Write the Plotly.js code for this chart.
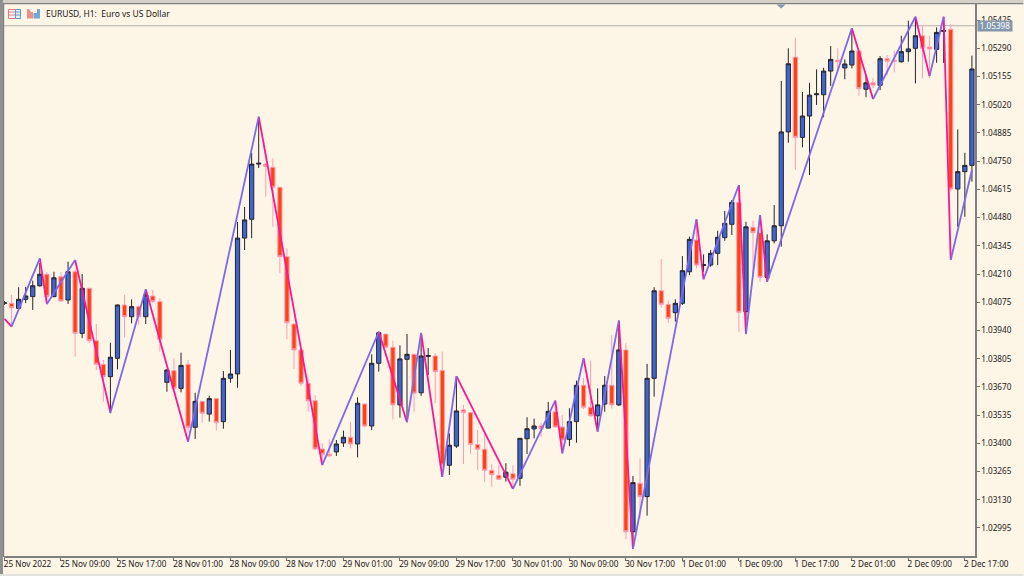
<!DOCTYPE html>
<html>
<head>
<meta charset="utf-8">
<script src="https://cdn.plot.ly/plotly-3.0.1.min.js"></script>
<style>html,body{margin:0;padding:0;background:#fdf5e6}#c{width:1024px;height:576px}</style>
</head>
<body>
<div id="c"></div>
<script>
// Prices are written in points (1 point = 0.00001)
const open_pts = [104070,104070,104046,104089,104102,104154,104209,104102,104197,104086,104221,103926,104142,103891,103778,103719,103807,104062,104006,104054,104006,104105,104078,103692,103748,103663,103778,103477,103601,103540,103614,103504,103711,103732,104382,104472,104736,104736,104721,104625,104293,103971,103847,103687,103604,103373,103348,103359,103402,103429,103397,103588,103483,103783,103923,103860,103584,103802,103826,103642,103816,103818,103748,103295,103387,103560,103547,103394,103372,103271,103247,103238,103255,103233,103422,103469,103483,103473,103551,103478,103419,103504,103678,103573,103532,103588,103678,103584,103847,102977,103209,103145,103711,104130,104065,104025,104070,104221,104373,104251,104253,104309,104384,104448,104553,104030,104434,104408,104194,104369,104441,104890,105248,104864,104966,105068,105068,105181,105233,105196,105210,105277,105094,105125,105113,105240,105233,105226,105274,105290,105350,105296,105285,105371,105381,104617,104700,104730];
const high_pts = [104081,104110,104147,104149,104178,104263,104220,104221,104218,104269,104229,104210,104142,103971,103799,103881,104064,104110,104089,104062,104134,104134,104094,103754,103807,103834,103799,103642,103601,103628,103614,103746,103847,104459,104531,104789,104957,104740,104764,104625,104333,103971,103847,103719,103631,103400,103419,103416,103461,103502,103620,103592,103826,103934,103923,103891,103869,103923,103826,103928,103856,103831,103839,103448,103719,103584,103547,103464,103450,103301,103296,103305,103295,103424,103525,103518,103497,103598,103607,103536,103568,103700,103713,103795,103663,103722,103918,103987,103879,103244,103328,103780,104147,104282,104082,104089,104296,104389,104469,104304,104325,104417,104512,104564,104636,104460,104465,104492,104400,104540,105134,105290,105341,105081,105125,105189,105197,105301,105290,105237,105386,105277,105162,105148,105253,105258,105278,105350,105422,105441,105401,105350,105390,105440,105406,104902,104790,105255];
const low_pts = [104062,103966,104044,104071,104038,104149,104062,104099,104078,104067,103815,103903,103879,103751,103599,103544,103754,103907,103974,103966,103971,104070,103839,103647,103655,103644,103450,103421,103499,103504,103461,103470,103690,103666,104325,104382,104717,104580,104436,104215,103898,103756,103674,103551,103368,103312,103336,103340,103383,103376,103333,103477,103464,103743,103855,103515,103523,103512,103551,103627,103727,103592,103240,103249,103378,103301,103349,103273,103214,103193,103225,103217,103193,103197,103349,103424,103432,103472,103477,103354,103387,103403,103564,103527,103464,103551,103566,103579,102941,102904,103041,103054,103623,104049,103977,103982,104062,104205,104237,104221,104245,104253,104369,104397,103931,103923,104196,104173,104173,104357,104341,104838,104708,104816,104684,105019,104960,105110,105178,105142,105194,105063,105056,105100,105090,105162,105175,105221,105226,105122,105146,105146,105221,105220,104604,104436,104484,104652];
const close_pts = [104072,104049,104089,104105,104154,104209,104102,104192,104081,104221,103926,104142,103891,103778,103719,103812,104062,104006,104054,104006,104110,104078,103898,103751,103663,103773,103477,103601,103544,103614,103499,103711,103732,104382,104469,104736,104740,104725,104625,104293,103977,103847,103687,103604,103373,103348,103340,103397,103429,103397,103592,103483,103783,103929,103860,103584,103804,103826,103640,103818,103820,103743,103296,103391,103555,103547,103394,103372,103271,103250,103228,103262,103228,103424,103470,103483,103470,103553,103478,103416,103504,103678,103573,103532,103584,103678,103584,103847,102977,103212,103145,103711,104130,104065,103998,104070,104226,104376,104253,104255,104309,104386,104453,104553,104027,104436,104408,104194,104369,104441,104890,105216,104864,104966,105066,105072,105181,105237,105226,105215,105277,105097,105125,105114,105240,105228,105228,105274,105287,105350,105290,105287,105366,105375,104617,104700,104730,105191];
const zigzag_bars = [0,1,5,6,10,15,20,26,36,45,53,57,59,62,64,72,78,79,82,84,87,89,98,99,104,105,107,108,120,123,129,131,133,134,137];
const zigzag_pts = [103996,103958,104285,104067,104277,103547,104137,103408,104963,103296,103934,103501,103929,103240,103722,103182,103604,103352,103807,103456,103987,102895,104472,104185,104636,103923,104492,104173,105386,105047,105441,105157,105441,104277,104708];
const time_tick_bars = [0,8,16,24,32,40,48,56,64,72,80,88,96,104,112,120,128,136];
const time_tick_labels = ["25 Nov 2022","25 Nov 09:00","25 Nov 17:00","28 Nov 01:00","28 Nov 09:00","28 Nov 17:00","29 Nov 01:00","29 Nov 09:00","29 Nov 17:00","30 Nov 01:00","30 Nov 09:00","30 Nov 17:00","1 Dec 01:00","1 Dec 09:00","1 Dec 17:00","2 Dec 01:00","2 Dec 09:00","2 Dec 17:00"];
const price_ticks = [1.05425,1.05290,1.05155,1.05020,1.04885,1.04750,1.04615,1.04480,1.04345,1.04210,1.04075,1.03940,1.03805,1.03670,1.03535,1.03400,1.03265,1.03130,1.02995];
const bid_price = 1.05398;
const chart_title = "EURUSD, H1:  Euro vs US Dollar";

const P = a => a.map(v => v / 100000);
const bars = open_pts.map((_, i) => i);
const FONT = "Noto Sans, sans-serif";

// zigzag split into rising and falling legs
const upX = [], upY = [], dnX = [], dnY = [];
for (let i = 1; i < zigzag_bars.length; i++) {
  const rising = zigzag_pts[i] > zigzag_pts[i - 1];
  const X = rising ? upX : dnX, Y = rising ? upY : dnY;
  X.push(zigzag_bars[i - 1], zigzag_bars[i], null);
  Y.push(zigzag_pts[i - 1] / 100000, zigzag_pts[i] / 100000, null);
}

const traces = [
  {
    type: "candlestick", x: bars,
    open: P(open_pts), high: P(high_pts), low: P(low_pts), close: P(close_pts),
    whiskerwidth: 0,
    increasing: {line: {color: "#24242e", width: 1}, fillcolor: "#3f66d0"},
    decreasing: {line: {color: "#ff9db5", width: 1}, fillcolor: "#ff4310"},
    showlegend: false, hoverinfo: "skip"
  },
  {type: "scatter", mode: "lines", x: dnX, y: dnY, line: {color: "#ff1493", width: 1.8}, showlegend: false, hoverinfo: "skip", connectgaps: false},
  {type: "scatter", mode: "lines", x: upX, y: upY, line: {color: "#7b68ee", width: 1.8}, showlegend: false, hoverinfo: "skip", connectgaps: false}
];

// pixel helpers for chrome placed on the paper
const L = 4, R = 975.5, T = 4, B = 556;
const px = x => (x - L) / (R - L), py = y => 1 - (y - T) / (B - T);
const rect = (x0, y0, x1, y1, fill, line) => ({type: "rect", xref: "paper", yref: "paper", x0: px(x0), x1: px(x1), y0: py(y1), y1: py(y0), fillcolor: fill, line: {width: line ? 1 : 0, color: line || fill}, layer: "above"});
const hline = (x0, x1, y, color) => ({type: "line", xref: "paper", yref: "paper", x0: px(x0), x1: px(x1), y0: py(y), y1: py(y), line: {color, width: 1}, layer: "above"});

const shapes = [
  // bid line
  {type: "line", xref: "paper", yref: "y", x0: 0, x1: 1, y0: bid_price, y1: bid_price, line: {color: "#b4b4ac", width: 1}, layer: "below"},
  // window frame
  rect(0, 0, 1024, 3, "#d4d0c8"),
  rect(0, 3, 1024, 4.2, "#808080"),
  rect(0, 0, 3, 576, "#909090"),
  rect(3, 4, 4.2, 557, "#808080"),
  rect(0, 574, 1024, 576, "#e4e2dc"),
  // icons
  rect(8.5, 9.5, 20.5, 18.5, "#fdf5f2", "#e87878"),
  hline(9, 15, 12, "#e87878"), hline(9, 15, 15, "#e87878"),
  rect(15.5, 9.5, 20.5, 18.5, "#e6f0f8", "#5b9bd0"),
  hline(16, 20, 12, "#5b9bd0"), hline(16, 20, 15, "#5b9bd0"),
  {type: "path", xref: "paper", yref: "paper", path: `M ${px(27)} ${py(9)} L ${px(29)} ${py(9)} L ${px(31)} ${py(12)} L ${px(33)} ${py(12)} L ${px(33)} ${py(18.5)} L ${px(27)} ${py(18.5)} Z`, fillcolor: "#ef8f86", line: {width: 0}, layer: "above"},
  {type: "path", xref: "paper", yref: "paper", path: `M ${px(33.5)} ${py(13)} L ${px(37)} ${py(13)} L ${px(37)} ${py(9)} L ${px(40)} ${py(9)} L ${px(40)} ${py(18.5)} L ${px(33.5)} ${py(18.5)} Z`, fillcolor: "#6fa8d8", line: {width: 0}, layer: "above"},
  // top marker
  {type: "path", xref: "paper", yref: "paper", path: `M ${px(777)} ${py(4.5)} L ${px(786)} ${py(4.5)} L ${px(781.5)} ${py(8.5)} Z`, fillcolor: "#8296aa", line: {width: 0}, layer: "above"}
];

const annotations = [
  {xref: "paper", yref: "paper", x: px(44), y: py(14), xanchor: "left", yanchor: "middle", showarrow: false, text: chart_title, font: {family: FONT, size: 8.5, color: "#202020"}},
  {xref: "paper", yref: "y", x: px(978), y: bid_price, xanchor: "left", yanchor: "middle", showarrow: false, text: bid_price.toFixed(5), bgcolor: "#8497ad", borderpad: 0, font: {family: FONT, size: 8.2, color: "#ffffff"}, width: 34, height: 9.5, align: "center"}
];

const BAR_PX = 7.065, LEFT_PAD = 0.5;

const layout = {
  width: 1024, height: 576,
  margin: {l: L, r: 1024 - R, t: T, b: 576 - B, pad: 0},
  paper_bgcolor: "#fdf5e6", plot_bgcolor: "#fdf5e6",
  showlegend: false, dragmode: false, hovermode: false,
  boxgap: 0.2, boxgroupgap: 0.25,
  xaxis: {
    type: "linear", range: [-LEFT_PAD / BAR_PX, (R - L - LEFT_PAD) / BAR_PX], rangeslider: {visible: false},
    tickmode: "array", tickvals: time_tick_bars, ticktext: time_tick_labels, tickangle: 0,
    ticks: "outside", ticklen: 3, tickwidth: 1, tickcolor: "#707070",
    ticklabelposition: "outside right", ticklabelshift: -2,
    showgrid: false, zeroline: false, showline: true, linecolor: "#808080", linewidth: 1.5,
    tickfont: {family: FONT, size: 8.2, color: "#202020"}, automargin: false
  },
  yaxis: {
    type: "linear", side: "right", range: [1.02861, 1.05502],
    tickmode: "array", tickvals: price_ticks, ticktext: price_ticks.map(v => v.toFixed(5)),
    ticks: "outside", ticklen: 3, tickwidth: 1, tickcolor: "#707070",
    showgrid: false, zeroline: false, showline: true, linecolor: "#808080", linewidth: 1.5,
    tickfont: {family: FONT, size: 8.2, color: "#202020"}, automargin: false
  },
  shapes, annotations
};

Plotly.newPlot("c", traces, layout, {displayModeBar: false, staticPlot: true});
</script>
</body>
</html>
